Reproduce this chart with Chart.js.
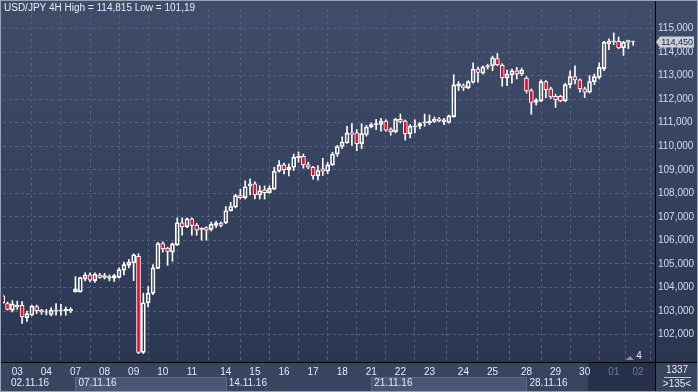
<!DOCTYPE html>
<html>
<head>
<meta charset="utf-8">
<script src="https://cdn.jsdelivr.net/npm/chart.js@4/dist/chart.umd.min.js"></script>
<style>
  html, body { margin: 0; padding: 0; background: #34405b; }
  #wrap { width: 698px; height: 392px; }
</style>
</head>
<body>
<div id="wrap"><canvas id="chart" width="698" height="392"></canvas></div>
<script>
// USD/JPY 4H candles, one entry per bar (02.11.16 .. 01.12.16)
const openPrices = [
  103.65, 103.32, 103.04, 103.17, 103.24, 102.72, 102.83, 103.19, 103.04, 102.95,
  102.85, 102.99, 103.00, 103.00, 103.00, 103.81, 103.81, 104.36, 104.54, 104.29,
  104.53, 104.43, 104.39, 104.39, 104.43, 104.74, 104.94, 105.05, 105.32, 101.24,
  103.35, 103.76, 104.81, 105.87, 105.67, 105.50, 105.81, 106.75, 106.58, 106.92,
  106.65, 106.47, 106.54, 106.47, 106.64, 106.74, 106.75, 107.26, 107.42, 107.90,
  107.82, 108.32, 108.40, 107.93, 108.15, 108.03, 108.18, 108.94, 109.21, 109.01,
  109.11, 109.51, 109.57, 109.21, 109.11, 108.74, 109.04, 108.94, 109.21, 109.67,
  109.99, 110.15, 110.57, 110.57, 110.11, 110.50, 110.82, 110.92, 110.93, 111.07,
  110.71, 110.62, 111.15, 111.07, 110.53, 110.82, 110.85, 110.99, 110.99, 111.06,
  111.17, 111.05, 111.01, 111.26, 112.55, 112.58, 112.48, 112.72, 113.28, 113.11,
  113.37, 113.42, 113.73, 113.44, 112.90, 113.04, 113.21, 113.07, 112.90, 112.37,
  111.86, 111.93, 112.75, 112.44, 112.12, 112.12, 111.93, 112.62, 112.96, 112.82,
  112.44, 112.30, 112.75, 112.93, 113.30, 114.36, 114.43, 114.46, 114.18, 114.42,
  114.44
];
const highPrices = [
  103.69, 103.38, 103.44, 103.42, 103.40, 103.00, 103.25, 103.25, 103.07, 103.07,
  103.14, 103.32, 103.28, 103.17, 103.14, 104.46, 104.44, 104.62, 104.62, 104.62,
  104.60, 104.60, 104.53, 104.56, 104.83, 105.08, 105.19, 105.43, 105.43, 103.76,
  104.04, 104.97, 105.92, 105.94, 105.71, 105.89, 106.96, 106.96, 106.96, 106.96,
  106.72, 106.54, 106.58, 106.78, 106.82, 106.79, 107.44, 107.62, 107.96, 108.18,
  108.53, 108.62, 108.49, 108.32, 108.32, 108.32, 109.11, 109.39, 109.29, 109.25,
  109.67, 109.76, 109.67, 109.32, 109.15, 109.18, 109.49, 109.32, 109.74, 110.04,
  110.40, 110.85, 110.96, 110.71, 110.96, 110.89, 110.99, 111.15, 111.19, 111.12,
  110.78, 111.19, 111.37, 111.12, 110.92, 111.12, 111.01, 111.37, 111.33, 111.24,
  111.22, 111.19, 111.33, 113.04, 112.75, 112.65, 112.79, 113.55, 113.37, 113.42,
  113.49, 113.83, 113.94, 113.51, 113.24, 113.28, 113.35, 113.32, 112.96, 112.44,
  112.03, 112.82, 112.79, 112.51, 112.21, 112.17, 112.68, 113.21, 113.42, 112.86,
  112.51, 113.00, 113.07, 113.55, 114.46, 114.57, 114.815, 114.64, 114.46, 114.51,
  114.47
];
const lowPrices = [
  103.31, 103.04, 102.96, 103.07, 102.47, 102.56, 102.79, 102.89, 102.86, 102.83,
  102.79, 102.82, 102.82, 102.82, 102.93, 103.80, 103.80, 104.28, 104.24, 104.21,
  104.39, 104.36, 104.28, 104.25, 104.39, 104.53, 104.83, 104.29, 101.19, 101.19,
  103.17, 103.69, 104.80, 105.50, 104.94, 105.11, 105.78, 106.22, 106.54, 106.22,
  106.22, 106.01, 106.01, 106.40, 106.54, 106.57, 106.71, 107.24, 107.38, 107.76,
  107.76, 107.93, 107.76, 107.76, 107.76, 108.00, 108.15, 108.90, 108.83, 108.74,
  108.97, 109.32, 109.07, 109.04, 108.60, 108.56, 108.76, 108.83, 109.18, 109.57,
  109.90, 110.12, 110.04, 109.81, 109.90, 110.43, 110.78, 110.71, 110.64, 110.64,
  110.47, 110.57, 110.99, 110.26, 110.36, 110.57, 110.74, 110.85, 110.92, 111.01,
  111.04, 110.92, 110.98, 111.23, 112.37, 112.37, 112.44, 112.68, 112.72, 113.07,
  113.28, 113.21, 113.42, 112.55, 112.58, 112.68, 112.86, 113.00, 112.26, 111.36,
  111.75, 111.89, 112.07, 112.03, 111.65, 111.89, 111.89, 112.48, 112.65, 112.30,
  112.07, 112.26, 112.62, 112.86, 113.21, 114.11, 114.32, 114.15, 113.86, 114.15,
  114.29
];
const closePrices = [
  103.35, 103.07, 103.30, 103.25, 102.75, 102.89, 103.21, 103.01, 102.96, 102.97,
  103.04, 103.04, 103.04, 103.07, 103.07, 103.94, 104.42, 104.53, 104.31, 104.57,
  104.43, 104.50, 104.46, 104.50, 104.76, 104.97, 105.08, 105.39, 101.24, 103.35,
  103.76, 104.83, 105.87, 105.64, 105.53, 105.85, 106.75, 106.57, 106.92, 106.64,
  106.44, 106.51, 106.44, 106.68, 106.75, 106.64, 107.26, 107.44, 107.90, 107.82,
  108.28, 108.40, 107.93, 108.11, 108.03, 108.21, 108.94, 109.21, 109.01, 109.11,
  109.54, 109.57, 109.21, 109.11, 108.74, 108.97, 108.94, 109.21, 109.67, 109.99,
  110.18, 110.57, 110.50, 110.11, 110.54, 110.82, 110.92, 110.96, 111.07, 110.68,
  110.61, 111.15, 111.06, 110.53, 110.85, 110.87, 110.96, 111.04, 111.07, 111.15,
  111.08, 111.12, 111.29, 112.61, 112.65, 112.48, 112.75, 113.28, 113.14, 113.37,
  113.42, 113.76, 113.46, 112.90, 113.07, 113.21, 113.07, 113.24, 112.35, 111.86,
  111.96, 112.75, 112.40, 112.10, 111.98, 111.93, 112.62, 112.96, 112.82, 112.44,
  112.30, 112.75, 112.96, 113.35, 114.42, 114.46, 114.48, 114.18, 114.42, 114.49,
  114.45
];

// bar index where each day starts, and its label
const dayStarts = [3, 9, 15, 21, 27, 33, 39, 46, 52, 58, 64, 70, 76, 82, 88, 95, 101, 108, 114, 120, 126, 131];
const dayLabels = ["03", "04", "07", "08", "09", "10", "11", "14", "15", "16", "17", "18", "21", "22", "23", "24", "25", "28", "29", "30", "01", "02"];
const futureCount = 2; // last labels sit in the dim strip

const weekStarts = [-1, 15, 46, 76, 108];
const weekLabels = ["02.11.16", "07.11.16", "14.11.16", "21.11.16", "28.11.16"];

const priceTicks = [102, 103, 104, 105, 106, 107, 108, 109, 110, 111, 112, 113, 114, 115];
const lastPrice = 114.45;
const titleText = "USD/JPY 4H High = 114,815 Low = 101,19";

const BG_TOP = "#404d6a";
const BG_BOTTOM = "#2b3651";
const GRID = "#55627d";
const UP_BORDER = "#ffffff";
const DOWN_FILL = "#e3112f";
const TEXT = "#e6ebf3";
const FONT = "Liberation Sans";

function fmtPrice(v) {
  return v.toFixed(3).replace(".", ",");
}

const bodies = openPrices.map((o, i) => ({ x: i, y: [o, closePrices[i]] }));
const upperWicks = openPrices.map((o, i) => ({ x: i, y: [Math.max(o, closePrices[i]), highPrices[i]] }));
const lowerWicks = openPrices.map((o, i) => ({ x: i, y: [lowPrices[i], Math.min(o, closePrices[i])] }));

const chromePlugin = {
  id: "chrome",
  beforeDraw(chart) {
    const ctx = chart.ctx;
    const area = chart.chartArea;
    const x = chart.scales.x;
    ctx.save();
    const grad = ctx.createLinearGradient(0, 0, 0, area.bottom);
    grad.addColorStop(0, BG_TOP);
    grad.addColorStop(1, BG_BOTTOM);
    ctx.fillStyle = grad;
    ctx.fillRect(0, 0, chart.width, area.bottom);
    // bottom date panel
    ctx.fillStyle = "#384460";
    ctx.fillRect(0, area.bottom, chart.width, chart.height - area.bottom);
    // alternate week boxes
    weekStarts.forEach((start, k) => {
      if (k % 2 === 0) return;
      const x1 = Math.round(x.getPixelForValue(start));
      const x2 = k + 1 < weekStarts.length ? Math.round(x.getPixelForValue(weekStarts[k + 1])) : area.right;
      ctx.fillStyle = "#4a5774";
      ctx.fillRect(x1, area.bottom + 15, x2 - x1, 14);
      ctx.strokeStyle = "#5d6a86";
      ctx.lineWidth = 1;
      ctx.strokeRect(x1 + 0.5, area.bottom + 15.5, x2 - x1, 14);
    });
    // next month strip
    ctx.fillStyle = "#27304a";
    ctx.fillRect(588, area.bottom, area.right - 588, chart.height - area.bottom);
    ctx.restore();
  },
  afterDraw(chart) {
    const ctx = chart.ctx;
    const area = chart.chartArea;
    const x = chart.scales.x;
    const y = chart.scales.y;
    ctx.save();
    // frame lines
    ctx.strokeStyle = "#000000";
    ctx.lineWidth = 1;
    ctx.beginPath();
    ctx.moveTo(area.right + 0.5, 0);
    ctx.lineTo(area.right + 0.5, chart.height);
    ctx.moveTo(0, area.bottom + 0.5);
    ctx.lineTo(chart.width, area.bottom + 0.5);
    ctx.stroke();
    ctx.strokeStyle = "#9aa3b3";
    ctx.strokeRect(0.5, 0.5, chart.width - 1, chart.height - 1);

    // title
    ctx.font = "10px " + FONT;
    ctx.fillStyle = TEXT;
    ctx.textBaseline = "top";
    ctx.textAlign = "left";
    ctx.fillText(titleText, 4, 3);

    // week labels
    ctx.textBaseline = "middle";
    weekStarts.forEach((start, k) => {
      const px = Math.max(x.getPixelForValue(start), 8);
      ctx.fillText(weekLabels[k], px + 3, area.bottom + 21);
    });

    // last price marker
    const py = Math.round(y.getPixelForValue(lastPrice));
    ctx.fillStyle = "#c9cfd9";
    ctx.beginPath();
    ctx.moveTo(area.right + 1, py);
    ctx.lineTo(area.right + 5, py - 5.5);
    ctx.lineTo(area.right + 39, py - 5.5);
    ctx.lineTo(area.right + 39, py + 5.5);
    ctx.lineTo(area.right + 5, py + 5.5);
    ctx.closePath();
    ctx.fill();
    ctx.fillStyle = "#1d2436";
    ctx.font = "9px " + FONT;
    ctx.textAlign = "right";
    ctx.fillText(fmtPrice(lastPrice), area.right + 38, py + 0.5);

    // bars counter
    ctx.font = "10px " + FONT;
    ctx.fillStyle = TEXT;
    ctx.textAlign = "center";
    ctx.fillText("1337", 677, area.bottom + 8);
    ctx.fillText(">135<", 677, area.bottom + 22);
    ctx.strokeStyle = "#c0c8d6";
    ctx.beginPath();
    ctx.moveTo(664, area.bottom + 15.5);
    ctx.lineTo(691, area.bottom + 15.5);
    ctx.stroke();

    // small marker near bottom right
    ctx.fillStyle = "#8a94a8";
    ctx.beginPath();
    ctx.moveTo(626, area.bottom - 2);
    ctx.lineTo(634, area.bottom - 2);
    ctx.lineTo(630, area.bottom - 6);
    ctx.closePath();
    ctx.fill();
    ctx.fillStyle = TEXT;
    ctx.fillText("4", 639, area.bottom - 6);
    ctx.restore();
  }
};

new Chart(document.getElementById("chart"), {
  type: "bar",
  data: {
    datasets: [
      {
        label: "body",
        data: bodies,
        order: 0,
        grouped: false,
        barThickness: 4,
        borderWidth: 1,
        borderSkipped: false,
        borderColor: UP_BORDER,
        backgroundColor: (c) => closePrices[c.dataIndex] >= openPrices[c.dataIndex] ? "rgba(0,0,0,0)" : DOWN_FILL
      },
      {
        label: "upper",
        data: upperWicks,
        order: 1,
        grouped: false,
        barThickness: 1,
        borderWidth: 0,
        backgroundColor: "#ffffff"
      },
      {
        label: "lower",
        data: lowerWicks,
        order: 1,
        grouped: false,
        barThickness: 1,
        borderWidth: 0,
        backgroundColor: "#ffffff"
      }
    ]
  },
  options: {
    responsive: false,
    animation: false,
    devicePixelRatio: 1,
    layout: { padding: { left: 3, top: 2, right: 0, bottom: 0 } },
    plugins: { legend: { display: false }, tooltip: { enabled: false } },
    scales: {
      x: {
        type: "linear",
        min: 0.06,
        max: 134.5,
        offset: false,
        afterFit: (s) => { s.height = 30; },
        afterBuildTicks: (s) => { s.ticks = dayStarts.map((v) => ({ value: v })); },
        border: { display: false, dash: [3, 3] },
        grid: { color: GRID, lineWidth: 1, drawTicks: false },
        ticks: {
          autoSkip: false,
          maxRotation: 0,
          padding: 4,
          font: { family: FONT, size: 10 },
          color: (c) => c.index >= dayLabels.length - futureCount ? "#6e7c99" : TEXT,
          callback: (v, i) => dayLabels[i]
        }
      },
      y: {
        position: "right",
        min: 100.833,
        max: 115.833,
        afterFit: (s) => { s.width = 43; },
        afterBuildTicks: (s) => { s.ticks = priceTicks.map((v) => ({ value: v })); },
        border: { display: false, dash: [3, 3] },
        grid: { color: GRID, lineWidth: 1, drawTicks: false },
        ticks: {
          padding: 3,
          font: { family: FONT, size: 10 },
          color: "#cfdcf5",
          callback: (v) => fmtPrice(v)
        }
      }
    }
  },
  plugins: [chromePlugin]
});
</script>
</body>
</html>
